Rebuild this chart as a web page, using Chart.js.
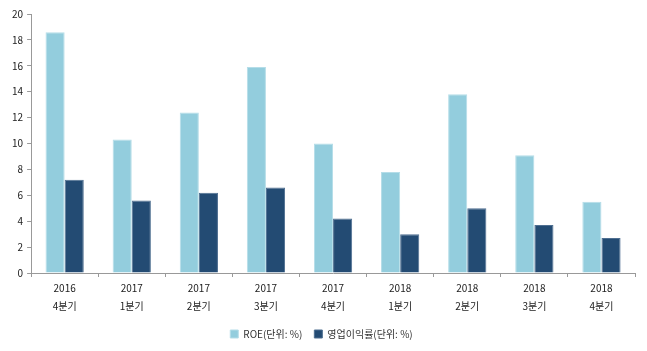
<!DOCTYPE html>
<html>
<head>
<meta charset="utf-8">
<script src="https://cdn.jsdelivr.net/npm/chart.js@4"></script>
<style>
  html, body { margin: 0; padding: 0; background: #fff; }
  #wrap { width: 647px; height: 351px; }
</style>
</head>
<body>
<div id="wrap"><canvas id="c" width="647" height="351"></canvas></div>
<script>
// quarter labels (two lines each)
const quarters = [
  ["2016", "4분기"], ["2017", "1분기"], ["2017", "2분기"], ["2017", "3분기"], ["2017", "4분기"],
  ["2018", "1분기"], ["2018", "2분기"], ["2018", "3분기"], ["2018", "4분기"]
];
const roe = [18.6, 10.3, 12.4, 15.9, 10.0, 7.8, 13.8, 9.1, 5.5];
const opMargin = [7.2, 5.6, 6.2, 6.6, 4.2, 3.0, 5.0, 3.7, 2.7];
const seriesNames = ["ROE(단위: %)", "영업이익률(단위: %)"];

const fontFamily = "'Noto Sans CJK KR', 'Liberation Sans', sans-serif";

new Chart(document.getElementById("c"), {
  type: "bar",
  data: {
    labels: quarters,
    datasets: [
      {
        label: seriesNames[0],
        data: roe,
        backgroundColor: "#93CDDD",
        borderColor: "#B5DDE8",
        borderWidth: 1,
        categoryPercentage: 0.57,
        barPercentage: 1.0
      },
      {
        label: seriesNames[1],
        data: opMargin,
        backgroundColor: "#234B73",
        borderColor: "#4F6F91",
        borderWidth: 1,
        categoryPercentage: 0.57,
        barPercentage: 1.0
      }
    ]
  },
  options: {
    responsive: false,
    animation: false,
    layout: { padding: { left: 8, right: 12, top: 14, bottom: 2 } },
    plugins: {
      tooltip: { enabled: false },
      legend: {
        position: "bottom",
        labels: {
          boxWidth: 8,
          boxHeight: 8,
          padding: 12,
          color: "#333",
          font: { family: fontFamily, size: 10 }
        }
      }
    },
    scales: {
      x: {
        grid: { drawOnChartArea: false, drawTicks: true, tickLength: 4, color: "#999" },
        border: { color: "#999" },
        ticks: {
          color: "#222",
          padding: 2,
          maxRotation: 0,
          font: { family: fontFamily, size: 10, lineHeight: 1.8 }
        }
      },
      y: {
        min: 0,
        max: 20,
        grid: { drawOnChartArea: false, drawTicks: true, tickLength: 4, color: "#999" },
        border: { color: "#999" },
        ticks: {
          stepSize: 2,
          color: "#222",
          padding: 4,
          font: { family: fontFamily, size: 10 }
        }
      }
    }
  }
});
</script>
</body>
</html>
